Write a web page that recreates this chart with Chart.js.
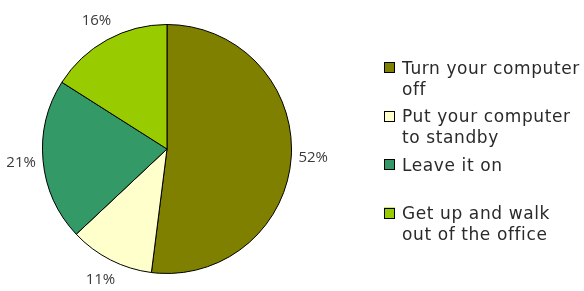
<!DOCTYPE html>
<html>
<head>
<meta charset="utf-8">
<script src="https://cdn.jsdelivr.net/npm/chart.js@4/dist/chart.umd.min.js"></script>
<style>
  html, body { margin: 0; padding: 0; background: #ffffff; }
  #wrap { width: 584px; height: 291px; position: relative; }
</style>
</head>
<body>
<div id="wrap"><canvas id="c"></canvas></div>
<script>
// ---- data ----
const categories = [
  ["Turn your computer", "off"],
  ["Put your computer", "to standby"],
  ["Leave it on"],
  ["Get up and walk", "out of the office"]
];
const values = [52, 11, 21, 16];
const colors = ["#808000", "#FFFFCC", "#339966", "#99CC00"];

const labelPlugin = {
  id: 'pctLabels',
  afterDatasetsDraw(chart) {
    const ctx = chart.ctx;
    const meta = chart.getDatasetMeta(0);
    ctx.save();
    ctx.font = '15px "Open Sans", sans-serif';
    ctx.fillStyle = '#3a3a3a';
    ctx.textAlign = 'center';
    ctx.textBaseline = 'middle';
    meta.data.forEach((arc, i) => {
      const p = arc.getProps(['x', 'y', 'startAngle', 'endAngle', 'outerRadius'], true);
      const mid = (p.startAngle + p.endAngle) / 2;
      const r = p.outerRadius + 22;
      ctx.fillText(chart.data.datasets[0].data[i] + '%', p.x + Math.cos(mid) * r, p.y + Math.sin(mid) * r);
    });
    ctx.restore();
  }
};

const legendPlugin = {
  id: 'customLegend',
  afterDraw(chart) {
    const ctx = chart.ctx;
    const boxX = 384, boxSize = 11, textX = 402;
    const firstCenter = 67.5, step = 48.5, lineH = 21;
    ctx.save();
    ctx.font = '17px "DejaVu Sans", sans-serif';
    try { ctx.letterSpacing = '0.6px'; } catch (e) {}
    ctx.textAlign = 'left';
    ctx.textBaseline = 'middle';
    chart.data.labels.forEach((lines, i) => {
      const cy = firstCenter + step * i;
      ctx.fillStyle = colors[i];
      ctx.fillRect(boxX, cy - boxSize / 2, boxSize, boxSize);
      ctx.strokeStyle = '#000000';
      ctx.lineWidth = 1;
      ctx.strokeRect(boxX + 0.5, Math.round(cy - boxSize / 2) + 0.5, boxSize - 1, boxSize - 1);
      ctx.fillStyle = '#2a2a2a';
      lines.forEach((t, j) => ctx.fillText(t, textX, cy + 2 + j * lineH));
    });
    ctx.restore();
  }
};

new Chart(document.getElementById('c'), {
  type: 'pie',
  data: {
    labels: categories,
    datasets: [{
      data: values,
      backgroundColor: colors,
      borderColor: '#000000',
      borderWidth: 1
    }]
  },
  options: {
    responsive: true,
    maintainAspectRatio: false,
    animation: false,
    layout: { padding: { left: 42, top: 24, right: 292, bottom: 17 } },
    plugins: {
      legend: { display: false },
      tooltip: { enabled: false }
    }
  },
  plugins: [labelPlugin, legendPlugin]
});
</script>
</body>
</html>
